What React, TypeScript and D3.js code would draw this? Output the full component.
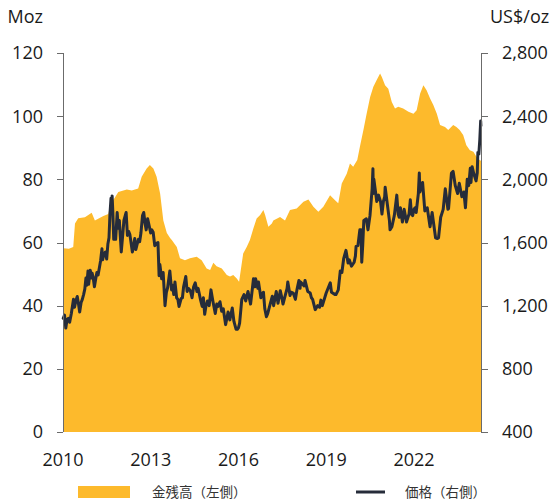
import React from "react";
import * as d3 from "d3";

const xTicks = [2010, 2013, 2016, 2019, 2022];
const leftTicks = [0, 20, 40, 60, 80, 100, 120];
const rightTicks = [400, 800, 1200, 1600, 2000, 2400, 2800];

const holdingYears = [
  2010.0, 2010.01, 2010.2, 2010.35, 2010.41, 2010.52, 2010.75, 2010.98, 2011.09, 2011.38, 2011.55, 2011.61,
  2011.89, 2012.18, 2012.35, 2012.57, 2012.69, 2012.86, 2012.97, 2013.09, 2013.2, 2013.32, 2013.43, 2013.55,
  2013.66, 2013.72, 2013.89, 2014.0, 2014.17, 2014.34, 2014.57, 2014.74, 2014.91, 2015.03, 2015.14, 2015.25,
  2015.43, 2015.6, 2015.71, 2015.82, 2015.94, 2016.02, 2016.16, 2016.28, 2016.39, 2016.51, 2016.62, 2016.74,
  2016.85, 2016.91, 2017.02, 2017.14, 2017.19, 2017.42, 2017.59, 2017.76, 2017.99, 2018.22, 2018.39, 2018.56,
  2018.73, 2018.9, 2019.13, 2019.3, 2019.41, 2019.53, 2019.7, 2019.81, 2019.92, 2020.06, 2020.15, 2020.27,
  2020.38, 2020.5, 2020.61, 2020.72, 2020.84, 2020.9, 2021.01, 2021.12, 2021.24, 2021.35, 2021.46, 2021.63,
  2021.81, 2021.98, 2022.09, 2022.21, 2022.32, 2022.43, 2022.55, 2022.66, 2022.78, 2022.89, 2023.06, 2023.17,
  2023.34, 2023.45, 2023.56, 2023.68, 2023.79, 2023.91, 2024.03, 2024.14, 2024.26, 2024.29,
];
const holdingMoz = [
  57.5, 58.2, 58.0, 58.6, 66, 67.7, 68, 69.4, 67, 68.4, 69, 71.8,
  76, 76.8, 76.5, 77.1, 80.8, 83.4, 84.5, 83.4, 80.8, 75.5, 67, 63,
  61.4, 60.8, 58.6, 55, 54.4, 55, 55.5, 54.4, 51.8, 51.3, 53.6, 52.5,
  51.8, 49.7, 49.2, 49.7, 48.6, 47.6, 56.5, 58.6, 60.8, 64.5, 67.6, 68.7,
  70.3, 68.7, 65, 66, 67, 68.1, 67, 70.3, 70.8, 72.9, 73.6, 71.3,
  69.7, 71.3, 75, 73.4, 72.4, 78.7, 81.8, 85, 84, 86.1, 90.3, 95.6,
  100.8, 106.1, 109.3, 111.4, 113.5, 112.4, 109.8, 108.7, 104.5, 102.4, 103, 102.4,
  101.4, 100.8, 101.9, 107.2, 109.8, 108.2, 105.6, 103.5, 100.8, 97.2, 96.6, 95.6,
  97.2, 96.6, 95.6, 94, 90.8, 89.2, 88.7, 87.1, 86, 86,
];

const priceDates = [
  "2010-01-04", "2010-01-20", "2010-02-05", "2010-02-20", "2010-03-10", "2010-03-25", "2010-04-15", "2010-05-12",
  "2010-05-25", "2010-06-10", "2010-06-28", "2010-07-15", "2010-07-28", "2010-08-15", "2010-08-30", "2010-09-15",
  "2010-09-30", "2010-10-14", "2010-10-25", "2010-11-09", "2010-11-17", "2010-12-07", "2010-12-20", "2010-12-31",
  "2011-01-12", "2011-01-28", "2011-02-15", "2011-02-28", "2011-03-15", "2011-03-31", "2011-04-15", "2011-05-02",
  "2011-05-10", "2011-05-25", "2011-06-15", "2011-06-30", "2011-07-15", "2011-07-29", "2011-08-10", "2011-08-23",
  "2011-08-30", "2011-09-06", "2011-09-15", "2011-09-26", "2011-10-05", "2011-10-20", "2011-11-08", "2011-11-22",
  "2011-12-05", "2011-12-29", "2012-01-15", "2012-01-31", "2012-02-28", "2012-03-15", "2012-03-31", "2012-04-15",
  "2012-05-16", "2012-05-31", "2012-06-15", "2012-06-28", "2012-07-15", "2012-07-31", "2012-08-15", "2012-08-31",
  "2012-09-20", "2012-10-05", "2012-10-22", "2012-11-05", "2012-11-23", "2012-12-15", "2012-12-31", "2013-01-15",
  "2013-01-31", "2013-02-20", "2013-03-15", "2013-04-01", "2013-04-15", "2013-04-25", "2013-05-17", "2013-06-05",
  "2013-06-28", "2013-07-15", "2013-07-31", "2013-08-27", "2013-09-18", "2013-09-30", "2013-10-15", "2013-10-30",
  "2013-11-20", "2013-12-05", "2013-12-20", "2014-01-15", "2014-01-31", "2014-02-15", "2014-03-14", "2014-03-31",
  "2014-04-15", "2014-05-10", "2014-05-31", "2014-06-20", "2014-07-10", "2014-07-31", "2014-08-15", "2014-09-15",
  "2014-10-05", "2014-10-20", "2014-11-05", "2014-11-20", "2014-12-10", "2014-12-31", "2015-01-22", "2015-02-15",
  "2015-03-17", "2015-04-05", "2015-04-20", "2015-05-15", "2015-06-05", "2015-06-25", "2015-07-24", "2015-08-24",
  "2015-09-15", "2015-10-15", "2015-11-05", "2015-12-02", "2015-12-17", "2015-12-31", "2016-01-15", "2016-02-11",
  "2016-03-10", "2016-03-31", "2016-04-29", "2016-05-31", "2016-06-24", "2016-07-06", "2016-07-25", "2016-08-02",
  "2016-08-31", "2016-09-07", "2016-10-07", "2016-10-31", "2016-11-08", "2016-11-25", "2016-12-15", "2016-12-31",
  "2017-01-31", "2017-02-27", "2017-03-15", "2017-04-17", "2017-05-09", "2017-06-06", "2017-06-30", "2017-07-10",
  "2017-08-30", "2017-09-08", "2017-10-06", "2017-10-20", "2017-11-15", "2017-12-12", "2017-12-31", "2018-01-25",
  "2018-02-08", "2018-02-15", "2018-03-31", "2018-04-11", "2018-05-15", "2018-06-15", "2018-06-30", "2018-07-15",
  "2018-08-16", "2018-09-15", "2018-10-10", "2018-10-26", "2018-11-13", "2018-12-31", "2019-01-31", "2019-02-20",
  "2019-03-07", "2019-04-23", "2019-05-02", "2019-05-31", "2019-06-25", "2019-07-15", "2019-08-07", "2019-09-04",
  "2019-09-30", "2019-10-15", "2019-11-12", "2019-12-15", "2019-12-31", "2020-01-08", "2020-01-31", "2020-02-24",
  "2020-03-09", "2020-03-19", "2020-03-31", "2020-04-14", "2020-05-15", "2020-06-05", "2020-06-30", "2020-07-27",
  "2020-08-06", "2020-08-11", "2020-08-18", "2020-09-23", "2020-10-15", "2020-11-09", "2020-11-27", "2020-12-15",
  "2020-12-31", "2021-01-06", "2021-01-31", "2021-02-28", "2021-03-08", "2021-03-31", "2021-04-30", "2021-05-31",
  "2021-06-17", "2021-06-30", "2021-07-15", "2021-08-09", "2021-08-31", "2021-09-29", "2021-10-31", "2021-11-16",
  "2021-11-30", "2021-12-15", "2021-12-31", "2022-01-15", "2022-01-28", "2022-02-24", "2022-03-08", "2022-03-15",
  "2022-04-18", "2022-05-16", "2022-06-15", "2022-07-20", "2022-08-15", "2022-09-27", "2022-10-20", "2022-11-03",
  "2022-11-30", "2022-12-31", "2023-01-26", "2023-02-28", "2023-03-08", "2023-04-13", "2023-05-04", "2023-05-31",
  "2023-06-29", "2023-07-20", "2023-08-21", "2023-09-15", "2023-10-05", "2023-10-27", "2023-11-15", "2023-12-04",
  "2023-12-13", "2023-12-27", "2024-01-15", "2024-02-14", "2024-02-29", "2024-03-08", "2024-03-20", "2024-04-01",
  "2024-04-12", "2024-04-15",
];
const priceUSD = [
  1120, 1140, 1058, 1110, 1120, 1095, 1150, 1240,
  1190, 1230, 1258, 1205, 1160, 1220, 1240, 1270,
  1305, 1375, 1330, 1420, 1335, 1425, 1375, 1405,
  1380, 1320, 1375, 1410, 1395, 1440, 1485, 1560,
  1490, 1525, 1540, 1495, 1590, 1630, 1780, 1880,
  1790, 1895, 1790, 1620, 1650, 1620, 1790, 1690,
  1740, 1540, 1640, 1740, 1790, 1645, 1670, 1650,
  1540, 1580, 1625, 1555, 1590, 1620, 1605, 1660,
  1770, 1790, 1720, 1680, 1750, 1700, 1660, 1680,
  1665, 1580, 1595, 1600, 1390, 1460, 1370, 1410,
  1200, 1285, 1315, 1420, 1300, 1330, 1270, 1350,
  1250, 1240, 1195, 1245, 1250, 1320, 1385, 1290,
  1310, 1295, 1250, 1320, 1345, 1290, 1310, 1235,
  1195, 1250, 1145, 1195, 1230, 1200, 1300, 1230,
  1150, 1210, 1195, 1225, 1165, 1180, 1080, 1160,
  1110, 1185, 1100, 1050, 1050, 1060, 1090, 1240,
  1270, 1230, 1290, 1210, 1315, 1370, 1320, 1370,
  1310, 1350, 1250, 1280, 1285, 1180, 1130, 1150,
  1210, 1260, 1200, 1290, 1215, 1295, 1240, 1210,
  1310, 1350, 1265, 1285, 1280, 1240, 1300, 1360,
  1310, 1350, 1325, 1360, 1290, 1280, 1250, 1240,
  1175, 1200, 1190, 1235, 1200, 1280, 1320, 1345,
  1285, 1270, 1270, 1300, 1420, 1410, 1500, 1550,
  1470, 1490, 1450, 1475, 1515, 1575, 1580, 1680,
  1680, 1475, 1580, 1740, 1750, 1680, 1770, 1940,
  2067, 1910, 2000, 1860, 1900, 1860, 1780, 1860,
  1890, 1950, 1850, 1740, 1680, 1700, 1770, 1900,
  1780, 1760, 1820, 1730, 1810, 1730, 1780, 1870,
  1780, 1770, 1810, 1820, 1790, 1910, 2040, 1920,
  1980, 1800, 1820, 1700, 1790, 1630, 1625, 1630,
  1760, 1810, 1940, 1810, 1815, 2040, 2050, 1960,
  1910, 1975, 1890, 1920, 1820, 2000, 1960, 2070,
  1980, 2080, 2040, 1990, 2040, 2170, 2160, 2250,
  2370, 2340,
];

const W = 553;
const H = 503;
const plotLeft = 63;
const plotRight = 481;
const plotTop = 53;
const plotBottom = 432;

const numFont = "'Open Sans', 'DejaVu Sans', sans-serif";
const cjkFont = "'Noto Sans CJK JP', 'Noto Sans CJK SC', sans-serif";
const gold = "#FDBA2C";
const lineColor = "#262C3A";
const axisColor = "#6b6b6b";
const textColor = "#1a1a1a";

function toYear(s: string): number {
  const [y, m, d] = s.split("-").map(Number);
  const t = Date.UTC(y, m - 1, d);
  const start = Date.UTC(y, 0, 1);
  const end = Date.UTC(y + 1, 0, 1);
  return y + (t - start) / (end - start);
}

export default function App() {
  const x = d3.scaleLinear().domain([2010, 2024.29]).range([plotLeft, plotRight]);
  const yL = d3.scaleLinear().domain([0, 120]).range([plotBottom, plotTop]);
  const yR = d3.scaleLinear().domain([400, 2800]).range([plotBottom, plotTop]);

  const holdings = holdingYears.map((t, i) => ({ t, v: holdingMoz[i] }));
  const prices = priceDates.map((s, i) => ({ t: toYear(s), v: priceUSD[i] }));

  const area = d3
    .area<{ t: number; v: number }>()
    .x((d) => x(d.t))
    .y0(yL(0))
    .y1((d) => yL(d.v));
  const line = d3
    .line<{ t: number; v: number }>()
    .x((d) => x(d.t))
    .y((d) => yR(d.v));

  const fmt = d3.format(",");

  return (
    <svg
      width={W}
      height={H}
      style={{ position: "absolute", left: 0, top: 0, background: "#fff" }}
    >
      <path d={area(holdings) || ""} fill={gold} />
      <path
        d={line(prices) || ""}
        fill="none"
        stroke={lineColor}
        strokeWidth={3}
        strokeLinejoin="round"
        strokeLinecap="round"
      />

      {/* Left axis */}
      <line x1={plotLeft + 0.5} x2={plotLeft + 0.5} y1={yL(120)} y2={yL(0)} stroke={axisColor} strokeWidth={1} />
      {leftTicks.map((t) => (
        <g key={"l" + t}>
          <line x1={plotLeft - 6} x2={plotLeft} y1={Math.round(yL(t)) + 0.5} y2={Math.round(yL(t)) + 0.5} stroke={axisColor} />
          <text
            x={43}
            y={yL(t)}
            dy="0.36em"
            textAnchor="end"
            fontFamily={numFont}
            fontSize={18}
            fill={textColor}
          >
            {t}
          </text>
        </g>
      ))}

      {/* Right axis */}
      <line x1={plotRight + 0.5} x2={plotRight + 0.5} y1={yR(2800)} y2={yR(400)} stroke={axisColor} strokeWidth={1} />
      {rightTicks.map((t) => (
        <g key={"r" + t}>
          <line x1={plotRight} x2={plotRight + 7} y1={Math.round(yR(t)) + 0.5} y2={Math.round(yR(t)) + 0.5} stroke={axisColor} />
          <text
            x={502}
            y={yR(t)}
            dy="0.36em"
            textAnchor="start"
            fontFamily={numFont}
            fontSize={18}
            fill={textColor}
          >
            {fmt(t)}
          </text>
        </g>
      ))}

      {/* X labels */}
      {xTicks.map((t) => (
        <text
          key={"x" + t}
          x={x(t)}
          y={466}
          textAnchor="middle"
          fontFamily={numFont}
          fontSize={18}
          fill={textColor}
        >
          {t}
        </text>
      ))}

      {/* Unit labels */}
      <text x={43} y={23} textAnchor="end" fontFamily={numFont} fontSize={18} fill={textColor}>
        Moz
      </text>
      <text x={490} y={23} textAnchor="start" fontFamily={numFont} fontSize={18} fill={textColor}>
        US$/oz
      </text>

      {/* Legend */}
      <rect x={78} y={486} width={52} height={12} fill={gold} />
      <text x={152} y={497} fontFamily={cjkFont} fontSize={13.5} fill="#333">
        金残高（左側）
      </text>
      <line x1={356} x2={385} y1={492} y2={492} stroke={lineColor} strokeWidth={3} />
      <text x={405} y={497} fontFamily={cjkFont} fontSize={13.5} fill="#333">
        価格（右側）
      </text>
    </svg>
  );
}
